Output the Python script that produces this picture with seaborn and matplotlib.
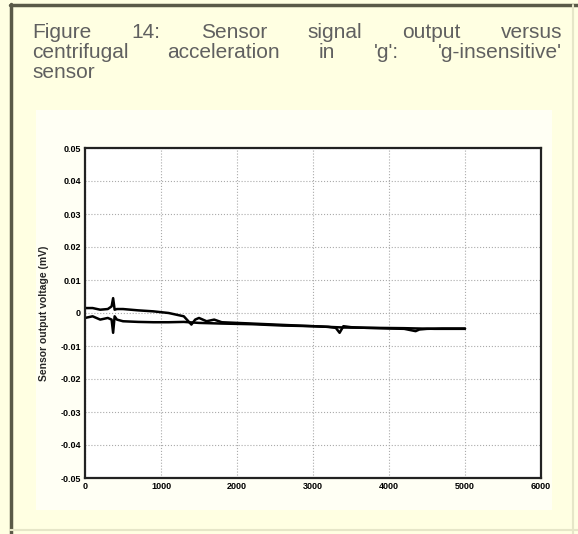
import matplotlib as mpl

mpl.use("Agg")
import matplotlib.pyplot as plt
import seaborn as sns
import pandas as pd
from matplotlib.patches import Rectangle
from matplotlib.lines import Line2D

# outbound branch (spin up)
x_up = [0, 100, 200, 300, 350, 370, 390, 420, 500, 700, 900, 1100, 1200, 1300,
        1400, 1450, 1500, 1600, 1700, 1800, 2000, 2200, 2500, 2800, 3000, 3200,
        3300, 3350, 3400, 3500, 3700, 4000, 4200, 4350, 4400, 4500, 4700, 5000]
y_up = [0.0015, 0.0015, 0.001, 0.0012, 0.002, 0.0045, 0.001, 0.0012, 0.0012,
        0.0008, 0.0005, 0.0, -0.0005, -0.001, -0.0035, -0.002, -0.0015, -0.0025,
        -0.002, -0.0028, -0.003, -0.0032, -0.0035, -0.0038, -0.004, -0.0042,
        -0.0045, -0.006, -0.004, -0.0043, -0.0045, -0.0047, -0.0048, -0.0055,
        -0.005, -0.0048, -0.0047, -0.0047]

# return branch (spin down)
x_down = [0, 100, 200, 300, 350, 370, 390, 420, 500, 700, 900, 1100, 1300, 1500,
          1800, 2200, 2600, 3000, 3400, 3800, 4200, 4600, 5000]
y_down = [-0.0015, -0.001, -0.002, -0.0015, -0.002, -0.006, -0.001, -0.002,
          -0.0025, -0.0027, -0.0028, -0.0028, -0.0027, -0.003, -0.0032, -0.0034,
          -0.0038, -0.004, -0.0044, -0.0045, -0.0046, -0.0048, -0.0048]

x_ticks = [0, 1000, 2000, 3000, 4000, 5000, 6000]
y_ticks = [0.05, 0.04, 0.03, 0.02, 0.01, 0, -0.01, -0.02, -0.03, -0.04, -0.05]
y_tick_labels = ["0.05", "0.04", "0.03", "0.02", "0.01", "0",
                 "-0.01", "-0.02", "-0.03", "-0.04", "-0.05"]

title_lines = [
    "Figure 14: Sensor signal output versus",
    "centrifugal acceleration in 'g': 'g-insensitive'",
    "sensor",
]
y_label = "Sensor output voltage (mV)"

df = pd.concat([
    pd.DataFrame({"g": x_up, "v": y_up, "branch": "up"}),
    pd.DataFrame({"g": x_down, "v": y_down, "branch": "down"}),
])

sns.set_style("white")
plt.rcParams["font.family"] = ["Liberation Sans", "DejaVu Sans"]

W, H = 578, 534
f = plt.figure(figsize=(W / 100, H / 100), dpi=100, facecolor="#FFFFE2")


def px(x, y):
    return x / W, 1 - y / H


# lighter panel behind the plot
x0, y0 = px(36, 510)
x1, y1 = px(552, 110)
f.patches.append(Rectangle((x0, y0), x1 - x0, y1 - y0, transform=f.transFigure,
                           facecolor="#FFFFF4", edgecolor="none", zorder=-5))
# frame lines of the screenshot
f.add_artist(Line2D([10.5 / W] * 2, [0, 1 - 4 / H], color="#5a5a48", lw=2.5))
f.add_artist(Line2D([10 / W, 1], [1 - 5 / H] * 2, color="#5a5a48", lw=2.5))
f.add_artist(Line2D([573 / W] * 2, [0, 1 - 5 / H], color="#e6e6c8", lw=1.5))
f.add_artist(Line2D([10 / W, 1], [4 / H] * 2, color="#e6e6c8", lw=1.5))

# justified caption
f.canvas.draw()
renderer = f.canvas.get_renderer()
left, right = 32, 562
line_y = [32, 53, 73]
for i, line in enumerate(title_lines):
    words = line.split(" ")
    texts = [f.text(0, 1 - line_y[i] / H, w, fontsize=15, color="#606060",
                    va="center", ha="left") for w in words]
    widths = [t.get_window_extent(renderer).width for t in texts]
    if len(words) > 1 and i < len(title_lines) - 1:
        gap = (right - left - sum(widths)) / (len(words) - 1)
    else:
        gap = 4
    xpos = left
    for t, w in zip(texts, widths):
        t.set_x(xpos / W)
        xpos += w + gap

ax = f.add_axes([85 / W, 1 - 478 / H, (541 - 85) / W, (478 - 148) / H])
ax.set_facecolor("white")
sns.lineplot(data=df, x="g", y="v", hue="branch", palette=["black", "black"],
             sort=False, estimator=None, legend=False, linewidth=1.8, ax=ax)

ax.set_xlim(0, 6000)
ax.set_ylim(-0.05, 0.05)
ax.set_xticks(x_ticks)
ax.set_xticklabels([str(t) for t in x_ticks], fontsize=6.5, fontweight="bold")
ax.set_yticks(y_ticks)
ax.set_yticklabels(y_tick_labels, fontsize=6.5, fontweight="bold")
ax.set_xlabel("")
ax.set_ylabel(y_label, fontsize=7.5, fontweight="bold", labelpad=8)
ax.grid(True, color="#aaaaaa", linestyle=":", linewidth=0.8)
ax.tick_params(direction="in", length=3, width=1, pad=3, colors="black")
for s in ax.spines.values():
    s.set_visible(True)
    s.set_color("#222222")
    s.set_linewidth(1.6)

f.savefig("out.png", dpi=100, facecolor=f.get_facecolor())
